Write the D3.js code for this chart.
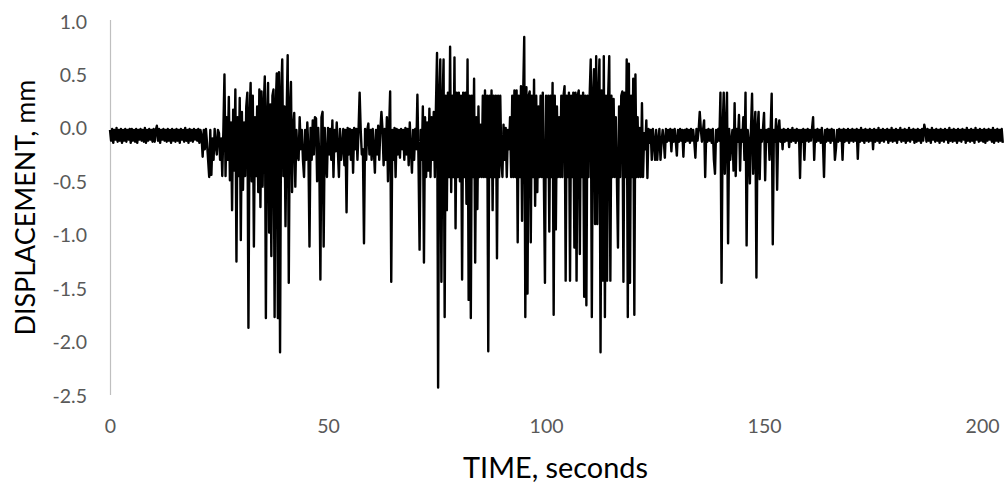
<!DOCTYPE html>
<html><head><meta charset="utf-8">
<script src="https://cdn.jsdelivr.net/npm/d3@7"></script>
<style>html,body{margin:0;padding:0;background:#fff;} svg{display:block;}</style>
</head><body>
<svg id="chart" width="1006" height="490"></svg>
<script>
// ---- data (displacement in mm, one sample every 0.25 s) ----
const sampleStep = 0.25;
const quietStart = [ // 0 - 19.75 s
-0.02,-0.12,-0.01,-0.14,-0.02,-0.11,0.0,-0.13,-0.02,-0.12,-0.01,-0.14,-0.02,-0.12,-0.01,-0.13,-0.02,-0.11,-0.01,-0.14,
-0.01,-0.12,-0.02,-0.13,-0.01,-0.14,-0.02,-0.11,-0.01,-0.12,-0.02,-0.13,0.0,-0.14,-0.02,-0.12,-0.01,-0.11,-0.02,-0.13,
-0.01,-0.13,-0.02,0.02,-0.12,-0.01,-0.14,-0.02,-0.11,-0.01,-0.12,-0.02,-0.13,-0.01,-0.12,-0.02,-0.14,-0.01,-0.12,-0.02,
-0.13,-0.01,-0.12,-0.02,-0.14,-0.01,-0.11,-0.02,-0.13,0.0,-0.12,-0.02,-0.14,-0.01,-0.12,-0.02,-0.13,-0.01,-0.11,-0.02
];
const burst1 = [ // 20 - 44.75 s
-0.12,-0.01,-0.14,-0.02,-0.08,-0.27,-0.02,-0.2,-0.01,-0.14,-0.3,-0.46,-0.02,-0.44,-0.1,-0.3,-0.01,-0.16,-0.25,-0.02,
-0.05,-0.3,-0.1,-0.45,-0.02,0.5,-0.45,0.1,-0.3,0.29,-0.49,0.05,-0.77,0.17,-0.4,0.36,-1.25,0.1,-0.45,0.28,
-1.05,0.15,-0.58,0.05,-0.45,0.2,0.33,-1.87,0.1,0.42,-0.5,0.3,-1.11,0.1,-0.45,0.2,-0.6,0.36,-0.74,0.34,
-0.55,0.2,0.48,-1.78,0.1,0.42,-0.98,0.22,-1.2,0.3,0.36,-1.77,0.2,0.51,-1.78,0.52,-2.1,0.3,0.64,-0.45,
0.2,-0.92,0.1,0.68,-1.45,0.2,0.43,-0.6,0.0,0.14,-0.55,-0.02,-0.25,-0.3,0.1,-0.2,-0.02,-0.3,-0.46,-0.02
];
const sparse1 = [ // 45 - 74.75 s
-0.3,0.05,-0.2,-1.11,0.0,-0.3,0.07,-0.25,0.1,0.09,-0.5,0.0,-0.28,-1.42,0.1,0.15,-1.11,0.0,-0.3,-0.46,
0.0,-0.25,-0.01,-0.3,0.07,-0.46,-0.02,-0.22,0.05,-0.2,-0.46,-0.01,-0.3,-0.18,-0.01,-0.35,-0.02,-0.79,0.0,-0.25,
-0.01,-0.3,-0.02,-0.42,0.0,-0.2,-0.01,-0.3,-0.02,0.33,-0.02,-0.25,-0.2,-1.08,-0.01,-0.3,-0.02,0.04,-0.25,-0.02,
-0.3,-0.01,-0.2,-0.42,-0.02,-0.25,0.02,-0.3,-0.02,0.15,-0.02,-0.35,-0.01,-0.3,0.1,-0.5,-0.02,0.34,-1.44,-0.02,
-0.3,0.0,-0.46,-0.01,-0.25,-0.02,-0.28,-0.01,-0.2,-0.02,-0.3,0.0,-0.25,-0.01,-0.35,0.05,-0.2,-0.42,-0.02,-0.3,
-0.01,-0.2,0.31,-0.3,-1.14,-0.02,-0.3,0.2,-1.26,0.1,-0.46,0.05,-0.4,0.18,-0.46,0.1,-0.3,0.15,-0.46,0.2
];
const burst2 = [ // 75 - 124.75 s
0.7,-2.43,0.3,0.64,-1.44,0.2,0.64,-1.77,0.3,-0.77,0.33,-0.46,0.76,-0.6,0.3,-0.46,0.66,-0.94,0.33,-0.46,
0.33,-0.5,0.3,-1.42,0.33,-0.46,0.33,-0.71,0.64,-1.61,0.3,-1.78,0.3,-0.46,0.46,-1.26,0.1,-0.76,0.2,-0.46,
0.03,-0.46,0.3,-0.46,0.35,-0.46,0.3,-2.09,0.3,-0.46,0.35,-0.77,0.3,-0.46,0.3,-1.22,0.3,-0.46,0.3,-0.3,
-0.46,0.03,-0.3,0.0,-0.46,-0.02,-0.2,0.1,-0.46,0.3,-0.46,0.35,-0.46,0.35,-1.07,0.3,-0.46,0.39,-0.87,0.3,
0.85,-1.77,0.38,-1.55,0.3,0.34,-1.07,0.3,-0.46,0.45,-0.73,0.3,-0.6,0.2,-0.46,0.3,-0.46,0.33,-0.46,-1.45,
0.3,-0.46,0.3,-0.97,0.3,-0.46,0.42,-1.75,0.3,-0.95,0.2,-0.46,0.1,-0.46,0.3,-0.46,0.3,0.39,-1.43,0.3,
-0.46,0.33,-1.43,0.3,-0.46,0.33,-1.12,0.33,-1.43,0.3,0.35,-1.18,0.3,-0.46,0.33,-1.58,0.3,-1.66,0.3,-0.46,
0.3,0.64,-1.77,0.3,0.55,-0.9,0.67,-0.9,0.3,0.64,-2.1,0.35,-1.43,0.67,-1.77,0.3,-1.43,0.3,0.67,-1.43,
0.3,-0.46,0.27,-0.46,0.1,-0.46,-1.12,0.2,-0.46,0.3,0.34,-1.44,0.33,-0.46,0.64,-1.77,0.6,-1.45,0.3,-0.46,
0.46,-1.75,0.5,-0.46,0.1,-0.46,0.0,-0.46,0.23,-0.46,-0.05,-0.2,0.07,-0.47,-0.01,-0.14,-0.02,-0.3,-0.01,-0.13
];
const burst3 = [ // 125 - 159.75 s
-0.3,-0.02,-0.3,-0.12,-0.01,-0.3,-0.13,-0.02,-0.12,-0.28,-0.01,-0.13,-0.02,-0.12,-0.01,-0.22,-0.02,-0.13,-0.01,-0.12,
-0.26,-0.02,-0.13,-0.01,-0.12,-0.02,-0.27,-0.02,-0.13,-0.01,-0.12,-0.02,-0.14,-0.01,-0.12,-0.02,-0.13,-0.28,-0.01,-0.12,
-0.02,0.15,-0.01,-0.13,-0.02,0.07,-0.46,-0.02,-0.13,-0.01,-0.12,-0.02,-0.14,-0.01,-0.3,-0.43,-0.02,-0.13,-0.01,-0.12,
0.33,-1.45,-0.02,0.33,-0.43,-0.02,0.33,-1.08,-0.01,-0.3,-0.12,-0.02,-0.4,0.23,-0.45,-0.01,-0.13,0.12,-0.4,-0.02,
-0.13,0.1,-0.3,0.33,-1.1,-0.02,-0.13,-0.52,-0.01,0.32,-0.43,-0.02,0.15,-1.4,-0.01,0.15,-0.48,-0.02,-0.13,-0.01,
0.14,-0.49,-0.02,-0.13,-0.01,-0.3,-0.02,0.32,-1.09,-0.02,-0.13,0.08,-0.58,-0.01,0.07,-0.13,-0.02,-0.2,-0.01,-0.13,
-0.02,-0.12,-0.01,-0.18,-0.02,-0.13,0.0,-0.12,-0.02,-0.14,-0.01,-0.12,-0.02,-0.47,-0.02,-0.13,-0.01,-0.3,-0.02,-0.12
];
const quietEnd = [ // 160 - 204.75 s
-0.01,-0.13,-0.02,-0.12,-0.01,0.1,-0.3,-0.02,-0.13,-0.01,-0.12,-0.02,-0.14,0.0,-0.12,-0.46,-0.02,-0.13,-0.01,-0.12,
-0.02,-0.14,-0.01,-0.12,-0.02,-0.3,-0.19,-0.02,-0.13,-0.01,-0.12,-0.02,-0.3,-0.01,-0.13,-0.02,-0.12,-0.01,-0.14,-0.02,
-0.12,-0.01,-0.13,-0.02,-0.12,-0.01,-0.29,-0.02,-0.13,0.0,-0.12,-0.02,-0.14,-0.01,-0.12,-0.02,-0.13,-0.01,-0.12,-0.02,
-0.2,-0.01,-0.13,-0.02,-0.12,0.0,-0.14,-0.02,-0.12,-0.01,-0.13,-0.02,-0.11,-0.01,-0.14,-0.02,-0.12,0.0,-0.13,-0.02,
-0.12,-0.01,-0.14,-0.02,-0.11,0.0,-0.13,-0.02,-0.12,-0.01,-0.14,-0.02,-0.12,0.0,-0.13,-0.02,-0.11,-0.01,-0.14,-0.02,
-0.13,-0.01,-0.12,-0.02,-0.14,-0.01,-0.12,0.03,-0.02,-0.13,-0.01,-0.12,-0.02,-0.14,0.0,-0.11,-0.02,-0.13,-0.01,-0.12,
-0.02,-0.14,-0.01,-0.12,-0.02,-0.13,-0.01,-0.11,-0.02,-0.14,0.0,-0.12,-0.02,-0.13,-0.01,-0.12,-0.02,-0.14,-0.01,-0.12,
-0.02,-0.13,-0.01,-0.11,-0.02,-0.14,0.0,-0.12,-0.02,-0.13,-0.01,-0.12,-0.02,-0.14,0.0,-0.11,-0.02,-0.13,-0.01,-0.12,
-0.02,-0.13,-0.01,-0.14,-0.02,-0.12,-0.01,-0.11,-0.02,-0.13,0.0,-0.14,-0.02,-0.12,-0.01,-0.13,-0.02,-0.12,-0.01,-0.14
];
const xTickValues = [0, 50, 100, 150, 200];
const yTickValues = [1.0, 0.5, 0.0, -0.5, -1.0, -1.5, -2.0, -2.5];
const xTitle = "TIME, seconds";
const yTitle = "DISPLACEMENT, mm";

// ---- build ----
const values = [].concat(quietStart, burst1, sparse1, burst2, burst3, quietEnd);
const series = values.map((v, i) => ({ t: i * sampleStep, v }));

const svg = d3.select("#chart");
const FONT = "Lato, 'Open Sans', sans-serif";

const x = d3.scaleLinear().domain([0, 204.8]).range([110, 1003]);
const y = d3.scaleLinear().domain([-2.5, 1.0]).range([395, 21]);

// y axis
const yAxis = svg.append("g").attr("transform", "translate(110,0)")
  .call(d3.axisLeft(y).tickValues(yTickValues).tickSize(0).tickSizeOuter(0).tickPadding(23)
    .tickFormat(d => d.toFixed(1)));
yAxis.select(".domain").attr("stroke", "#bfbfbf").attr("stroke-width", 1.2)
  .attr("d", `M0.5,${y(1.0) - 1}V${y(-2.5)}`);
yAxis.selectAll("text").attr("fill", "#595959").style("font-family", FONT)
  .style("font-size", "19.5px").attr("dy", "0.36em");

// x axis (labels only)
const xAxis = svg.append("g").attr("transform", `translate(0,${y(-2.5)})`)
  .call(d3.axisBottom(x).tickValues(xTickValues).tickSize(0).tickSizeOuter(0).tickPadding(31)
    .tickFormat(d3.format("d")));
xAxis.select(".domain").remove();
xAxis.selectAll("text").attr("fill", "#595959").style("font-family", FONT)
  .style("font-size", "19.5px").attr("dy", "0.36em");

// line
const line = d3.line().x(d => x(d.t)).y(d => y(d.v));
svg.append("path").datum(series)
  .attr("fill", "none").attr("stroke", "#000").attr("stroke-width", 2.4)
  .attr("stroke-linejoin", "round").attr("d", line);

// titles, sized to the reference text width
function fitText(sel, target) {
  const len = sel.node().getComputedTextLength();
  sel.style("font-size", (30 * target / len).toFixed(2) + "px");
}
const xt = svg.append("text").text(xTitle)
  .attr("x", 555.5).attr("y", 478).attr("text-anchor", "middle")
  .style("font-family", FONT).style("font-size", "30px").attr("fill", "#000");
fitText(xt, 185);
const yt = svg.append("text").text(yTitle)
  .attr("transform", "translate(35,207.5) rotate(-90)").attr("text-anchor", "middle")
  .style("font-family", FONT).style("font-size", "30px").attr("fill", "#000");
fitText(yt, 256);
</script>
</body></html>
